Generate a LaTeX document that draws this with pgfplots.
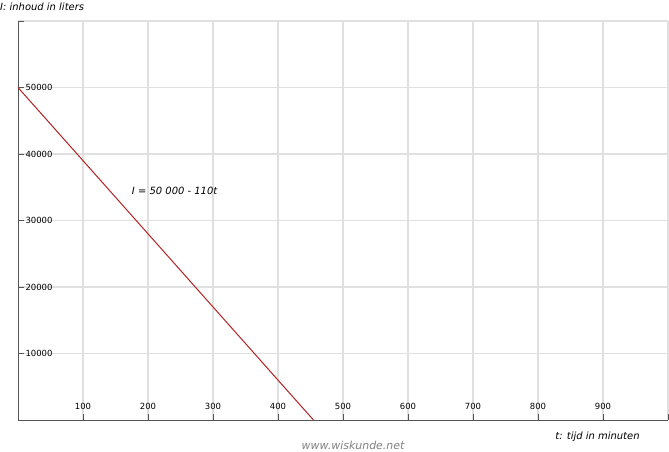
\documentclass[border=0pt]{standalone}
\usepackage{pgfplots}
\pgfplotsset{compat=1.18}
\usepackage{fontspec}
\setmainfont{DejaVu Sans}
\definecolor{gridgray}{HTML}{E0E0E0}
\definecolor{axisgray}{HTML}{555555}
\definecolor{linered}{HTML}{B22222}
\begin{document}
\begin{tikzpicture}
\path[use as bounding box] (-18bp,-32bp) rectangle (651bp,420bp);
\begin{axis}[
  at={(0,0)}, anchor=origin,
  scale only axis, width=650bp, height=399bp,
  xmin=0, xmax=1000, ymin=0, ymax=60000,
  axis lines=left, axis line style={-, axisgray, line width=1bp},
  xtick={100,200,300,400,500,600,700,800,900,1000},
  xticklabels={100,200,300,400,500,600,700,800,900,{}},
  ytick={10000,20000,30000,40000,50000,60000},
  yticklabels={10000,20000,30000,40000,50000,{}},
  scaled y ticks=false,
  grid=major, major grid style={gridgray, line width=1.6bp},
  tick align=inside, major tick length=6bp,
  tick style={axisgray, line width=1bp},
  ticklabel style={font=\fontsize{8.5}{10}\selectfont, text=black},
  xticklabel style={anchor=south, yshift=7bp},
  yticklabel style={anchor=west, xshift=4bp},
  /pgf/number format/assume math mode=true,
  /pgf/number format/set thousands separator={},
  clip=false,
]
\addplot[linered, line width=1bp] coordinates {(0,50000) (454.545,0)};
\node[font=\fontsize{10}{12}\selectfont\itshape] at (axis cs:241,34400) {I = 50 000 - 110t};
\end{axis}
\node[anchor=west, inner sep=0pt, font=\fontsize{10}{12}\selectfont\itshape] at (-18bp,413.5bp) {I: inhoud in liters};
\node[inner sep=0pt, font=\fontsize{10}{12}\selectfont\itshape] at (579.5bp,-17bp) {t: tijd in minuten};
\node[inner sep=0pt, text=gray, font=\fontsize{11}{13}\selectfont\itshape] at (335bp,-25.5bp) {www.wiskunde.net};
\end{tikzpicture}
\end{document}
